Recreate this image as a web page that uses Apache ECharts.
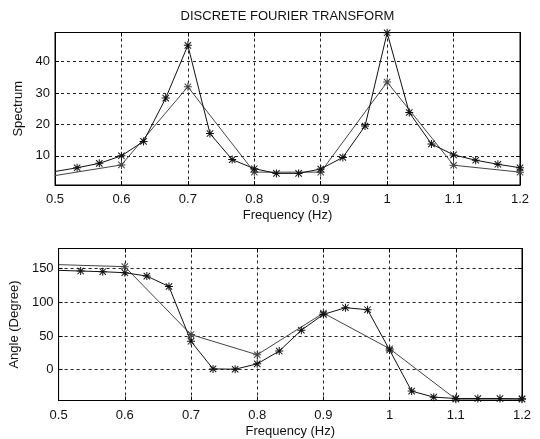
<!DOCTYPE html>
<html>
<head>
<meta charset="utf-8">
<script src="https://cdn.jsdelivr.net/npm/echarts@6/dist/echarts.min.js"></script>
<style>
  html, body { margin: 0; padding: 0; background: #fff; }
  #chart { width: 540px; height: 439px; }
</style>
</head>
<body>
<div id="chart"></div>
<script>
// Frequency samples (Hz): fine grid (1/30 Hz) and coarse grid (0.1 Hz)
const freqFine = [0.5, 0.5333, 0.5667, 0.6, 0.6333, 0.6667, 0.7, 0.7333, 0.7667, 0.8, 0.8333,
                  0.8667, 0.9, 0.9333, 0.9667, 1.0, 1.0333, 1.0667, 1.1, 1.1333, 1.1667, 1.2];
const freqCoarse = [0.5, 0.6, 0.7, 0.8, 0.9, 1.0, 1.1, 1.2];

// Amplitude spectrum
const spectrumFine = [5.0, 6.2, 7.6, 10.0, 14.6, 28.4, 45.2, 17.1, 8.8, 5.9, 4.4,
                      4.4, 5.8, 9.5, 19.5, 49.2, 23.8, 13.8, 10.3, 8.6, 7.3, 6.2];
const spectrumCoarse = [3.7, 7.1, 32.0, 4.8, 4.8, 33.5, 7.0, 4.8];

// Phase angle (degrees)
const angleFine = [147.5, 146.5, 145.5, 144, 139, 123.5, 42, 1, 0.5, 8.5, 27.5,
                   58.5, 82, 92, 89, 29, -32, -41, -43, -43, -43, -43.5];
const angleCoarse = [156, 153, 52, 22, 84, 31, -44, -44];

// Tick positions and labels
const freqTicks = [0.5, 0.6, 0.7, 0.8, 0.9, 1.0, 1.1, 1.2];
const freqTickLabels = ['0.5', '0.6', '0.7', '0.8', '0.9', '1', '1.1', '1.2'];
const spectrumTicks = [10, 20, 30, 40];
const angleTicks = [0, 50, 100, 150];

// Eight-armed asterisk marker
const STAR = 'path://M8.75 0H11.25V20H8.75Z M0 8.75H20V11.25H0Z ' +
             'M1.12 17.12L17.12 1.12L18.88 2.88L2.88 18.88Z ' +
             'M2.88 1.12L18.88 17.12L17.12 18.88L1.12 2.88Z';

const FONT = 'Liberation Sans, Arial, Helvetica, sans-serif';
const INK = '#111';

function freqLabel(v) {
  const i = freqTicks.findIndex(t => Math.abs(t - v) < 1e-6);
  return i >= 0 ? freqTickLabels[i] : '';
}

function pairs(xs, ys) {
  // first sample sits on the left border: line only, no marker
  return xs.map((x, i) => i === 0 ? { value: [x, ys[i]], symbol: 'none' } : [x, ys[i]]);
}

const dashed = { show: true, lineStyle: { color: '#222', width: 1, type: [3, 3] } };
const frameLine = { show: true, onZero: false, lineStyle: { color: '#000', width: 1 } };

function xMain(gridIndex) {
  return {
    type: 'value', gridIndex, position: 'bottom', min: 0.5, max: 1.2,
    name: 'Frequency (Hz)', nameLocation: 'middle', nameGap: 24,
    nameTextStyle: { fontSize: 13, color: INK, fontFamily: FONT },
    axisLine: frameLine,
    axisTick: { show: true, inside: true, length: 4, customValues: freqTicks, lineStyle: { color: '#000' } },
    axisLabel: { customValues: freqTicks, formatter: freqLabel, margin: 8, fontSize: 13, color: INK, fontFamily: FONT },
    splitLine: dashed
  };
}
function xTop(gridIndex) {
  return {
    type: 'value', gridIndex, position: 'top', min: 0.5, max: 1.2,
    axisLine: frameLine,
    axisTick: { show: true, inside: true, length: 4, customValues: freqTicks, lineStyle: { color: '#000' } },
    axisLabel: { show: false }, splitLine: { show: false }
  };
}
function yMain(gridIndex, min, max, ticks, name, gap) {
  return {
    type: 'value', gridIndex, position: 'left', min, max,
    name, nameLocation: 'middle', nameGap: gap,
    nameTextStyle: { fontSize: 13, color: INK, fontFamily: FONT },
    axisLine: frameLine,
    axisTick: { show: true, inside: true, length: 4, customValues: ticks, lineStyle: { color: '#000' } },
    axisLabel: { customValues: ticks, margin: 5, fontSize: 13, color: INK, fontFamily: FONT },
    splitLine: dashed
  };
}
function yRight(gridIndex, min, max, ticks) {
  return {
    type: 'value', gridIndex, position: 'right', min, max,
    axisLine: frameLine,
    axisTick: { show: true, inside: true, length: 4, customValues: ticks, lineStyle: { color: '#000' } },
    axisLabel: { show: false }, splitLine: { show: false }
  };
}
function line(xi, yi, xs, ys, color, width) {
  return {
    type: 'line', xAxisIndex: xi, yAxisIndex: yi, data: pairs(xs, ys),
    symbol: STAR, symbolSize: 8, showSymbol: true, showAllSymbol: true,
    lineStyle: { color, width }, itemStyle: { color }, z: 3
  };
}

const chart = echarts.init(document.getElementById('chart'), null, { renderer: 'canvas' });
chart.setOption({
  animation: false,
  backgroundColor: '#fff',
  textStyle: { fontFamily: FONT },
  graphic: [{
    type: 'text', x: 287.5, y: 16,
    style: { text: 'DISCRETE FOURIER TRANSFORM', textAlign: 'center', textVerticalAlign: 'middle',
             font: '13px ' + FONT, fill: INK }
  }],
  grid: [
    { left: 55, top: 32.5, width: 465, height: 152.5, show: true, borderColor: '#000', borderWidth: 1, containLabel: false },
    { left: 58, top: 248.5, width: 464, height: 152, show: true, borderColor: '#000', borderWidth: 1, containLabel: false }
  ],
  xAxis: [xMain(0), xTop(0), xMain(1), xTop(1)],
  yAxis: [
    yMain(0, 0.7, 49.3, spectrumTicks, 'Spectrum', 28),
    yRight(0, 0.7, 49.3, spectrumTicks),
    yMain(1, -46, 180, angleTicks, 'Angle (Degree)', 33),
    yRight(1, -46, 180, angleTicks)
  ],
  series: [
    line(0, 0, freqCoarse, spectrumCoarse, '#444', 1),
    line(0, 0, freqFine, spectrumFine, '#111', 1),
    line(2, 2, freqCoarse, angleCoarse, '#444', 1),
    line(2, 2, freqFine, angleFine, '#111', 1)
  ]
});
</script>
</body>
</html>
